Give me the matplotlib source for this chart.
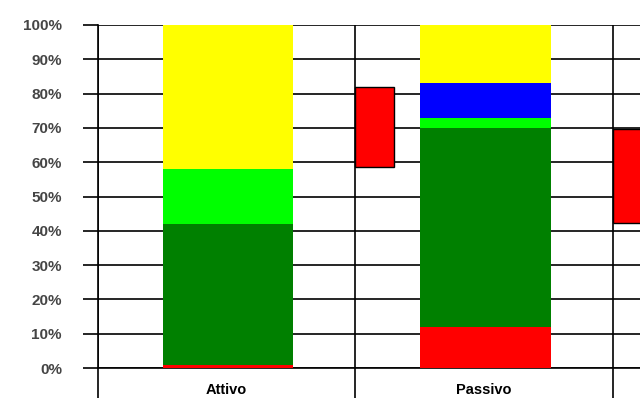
import matplotlib.pyplot as plt
import numpy as np

# stacked shares (percent) per category
categories = ["Attivo", "Passivo"]
red = [1, 12]
dark_green = [41, 58]
light_green = [16, 3]
blue = [0, 10]
yellow = [42, 17]

# floating red bars (bottom, top) placed at the category boundaries
float_bottom = [58.7, 42.2]
float_top = [81.8, 69.6]

fig = plt.figure(figsize=(6.4, 3.98), dpi=100)
ax = fig.add_axes([98/640, 30/398, 1 - 98/640, 343/398])

x = np.arange(1, len(categories) + 1)
w = 0.505
bottom = np.zeros(len(categories))
for vals, col in [(red, "#ff0000"), (dark_green, "#008000"), (light_green, "#00ff00"),
                  (blue, "#0000ff"), (yellow, "#ffff00")]:
    ax.bar(x + 0.005, vals, w, bottom=bottom, color=col, edgecolor="none", zorder=3)
    bottom += np.array(vals)

fx = x + 0.5
fb = np.array(float_bottom)
ft = np.array(float_top)
ax.bar(fx, ft - fb, 0.148, bottom=fb, align="edge", color="#ff0000",
       edgecolor="black", linewidth=1, zorder=3)

ax.set_xlim(0.5, 2.605)
ax.set_ylim(0, 100)

ax.set_yticks(np.arange(0, 101, 10))
ax.set_yticklabels([f"{v}%" for v in range(0, 101, 10)], fontsize=11,
                   fontweight="bold", family="Liberation Sans", color="#454545")
ax.tick_params(axis="y", length=11, width=1.2, pad=15, color="black")
ax.yaxis.grid(True, color="black", linewidth=1.2, zorder=1)

ax.set_xticks([0.5, 1.5, 2.5])
ax.set_xticklabels([])
ax.tick_params(axis="x", which="major", length=30, width=1.2, color="black")
ax.xaxis.grid(True, color="black", linewidth=1.2, zorder=1)
ax.set_xticks(x, minor=True)
ax.set_xticklabels(categories, minor=True, fontsize=10.5, fontweight="bold",
                   family="Liberation Sans")
ax.tick_params(axis="x", which="minor", length=0, pad=11)

for s in ["top", "right"]:
    ax.spines[s].set_visible(False)
ax.spines["left"].set_linewidth(1.2)
ax.spines["bottom"].set_linewidth(1.2)

fig.savefig("out.png", dpi=100)
